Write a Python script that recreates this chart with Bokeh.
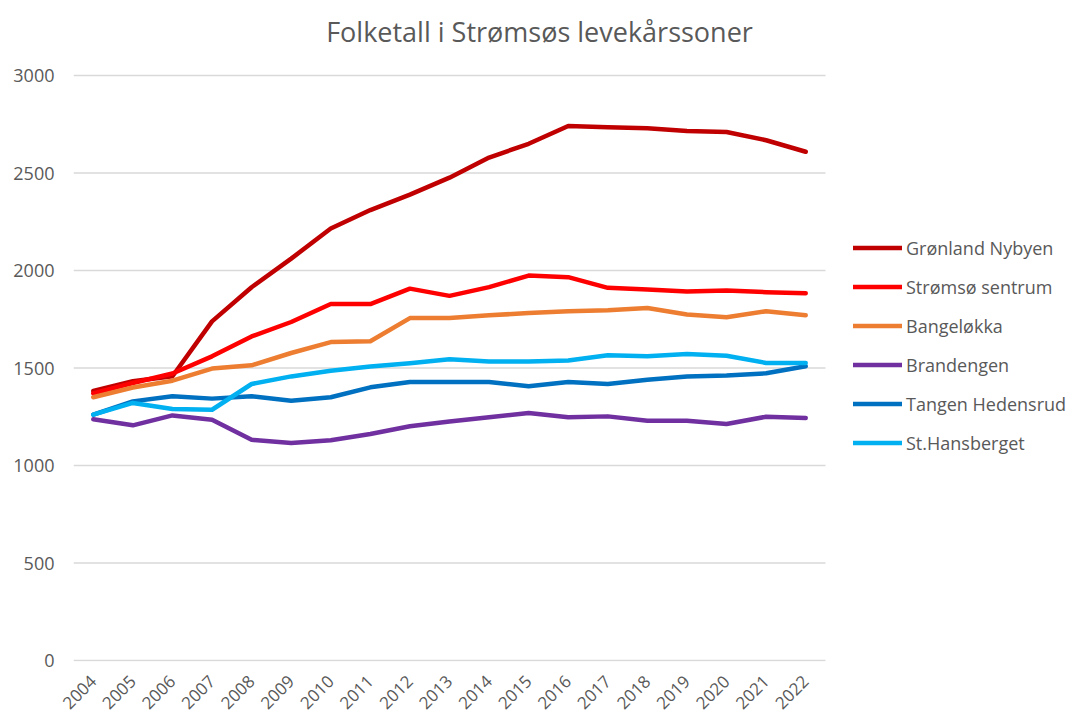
from math import pi
from bokeh.plotting import figure
from bokeh.models import Range1d, FixedTicker, Legend, LegendItem, Label
from bokeh.embed import file_html
from bokeh.resources import INLINE

years = list(range(2004, 2023))

gronland_nybyen = [1382, 1432, 1458, 1739, 1914, 2061, 2215, 2310, 2389, 2476, 2579, 2650, 2741, 2734, 2729, 2715, 2710, 2668, 2609]
stromso_sentrum = [1370, 1423, 1472, 1560, 1662, 1736, 1828, 1828, 1907, 1870, 1915, 1974, 1966, 1911, 1903, 1892, 1897, 1889, 1884]
bangelokka = [1350, 1400, 1435, 1497, 1514, 1577, 1633, 1637, 1756, 1756, 1770, 1782, 1791, 1796, 1808, 1774, 1760, 1791, 1770]
brandengen = [1237, 1206, 1257, 1235, 1132, 1115, 1130, 1162, 1201, 1226, 1247, 1269, 1247, 1252, 1230, 1230, 1213, 1250, 1244]
tangen_hedensrud = [1261, 1329, 1355, 1343, 1355, 1332, 1350, 1401, 1428, 1428, 1428, 1406, 1428, 1418, 1440, 1456, 1462, 1473, 1509]
st_hansberget = [1261, 1321, 1290, 1286, 1418, 1457, 1486, 1508, 1525, 1545, 1534, 1534, 1539, 1565, 1560, 1572, 1563, 1526, 1526]

series_names = ["Grønland Nybyen", "Strømsø sentrum", "Bangeløkka", "Brandengen", "Tangen Hedensrud", "St.Hansberget"]
series_values = [gronland_nybyen, stromso_sentrum, bangelokka, brandengen, tangen_hedensrud, st_hansberget]
series_colors = ["#C00000", "#FF0000", "#ED7D31", "#7030A0", "#0070C0", "#00B0F0"]

y_ticks = [0, 500, 1000, 1500, 2000, 2500, 3000]
title_text = "Folketall i Strømsøs levekårssoner"

FONT = "Open Sans"
GREY = "#595959"

# Layout: the frame spans the whole canvas right of the y labels so that the
# legend and title (drawn inside the frame) are not clipped.
W, H = 1069, 717
LEFT, BOTTOM = 73, 56
PLOT_RIGHT_PX, PLOT_TOP_PX = 825, 75        # where the chart area ends
x0, x1 = years[0] - 0.5, years[-1] + 0.5
y0, y1 = -5, 3000
frame_w, frame_h = W - LEFT, H - BOTTOM
ppx = (PLOT_RIGHT_PX - LEFT) / (x1 - x0)
ppy = ((H - BOTTOM) - PLOT_TOP_PX) / (y1 - y0)

p = figure(width=W, height=H, output_backend="svg", toolbar_location=None,
           x_range=Range1d(x0, x0 + frame_w / ppx), y_range=Range1d(y0, y0 + frame_h / ppy),
           min_border_left=LEFT, min_border_right=0, min_border_top=0, min_border_bottom=BOTTOM)
p.outline_line_color = None
p.background_fill_color = "white"
p.border_fill_color = "white"

p.xgrid.grid_line_color = None
p.ygrid.grid_line_color = None

# horizontal gridlines limited to the chart area
p.segment(x0=[x0] * len(y_ticks), x1=[x1] * len(y_ticks), y0=y_ticks, y1=y_ticks,
          line_color="#D9D9D9", line_width=1.3)

p.yaxis.ticker = FixedTicker(ticks=y_ticks)
p.xaxis.ticker = FixedTicker(ticks=years)
for ax in (p.xaxis, p.yaxis):
    ax.axis_line_color = None
    ax.major_tick_line_color = None
    ax.minor_tick_line_color = None
    ax.major_tick_out = 0
    ax.major_tick_in = 0
    ax.major_label_text_font = FONT
    ax.major_label_text_color = GREY
p.yaxis.major_label_text_font_size = "18px"
p.yaxis.major_label_standoff = 19
p.xaxis.major_label_text_font_size = "17px"
p.xaxis.major_label_orientation = pi / 4
p.xaxis.major_label_standoff = 17

items = []
for name, vals, col in zip(series_names, series_values, series_colors):
    r = p.line(years, vals, line_color=col, line_width=4.5, line_cap="round", line_join="round")
    items.append(LegendItem(label=name, renderers=[r]))

legend = Legend(items=items, location=(853 - LEFT, 206), orientation="vertical",
                glyph_width=49, glyph_height=25, label_height=25, label_standoff=4,
                spacing=14, padding=0, margin=0,
                border_line_color=None, background_fill_alpha=0,
                label_text_font=FONT, label_text_font_size="18px", label_text_color=GREY)
p.add_layout(legend)

title = Label(x=539 - LEFT, y=frame_h - 31, x_units="screen", y_units="screen", text=title_text,
              text_align="center", text_baseline="alphabetic",
              text_font=FONT, text_font_size="27px", text_color=GREY)
p.add_layout(title)

open("out.html", "w").write(file_html(p, INLINE))
